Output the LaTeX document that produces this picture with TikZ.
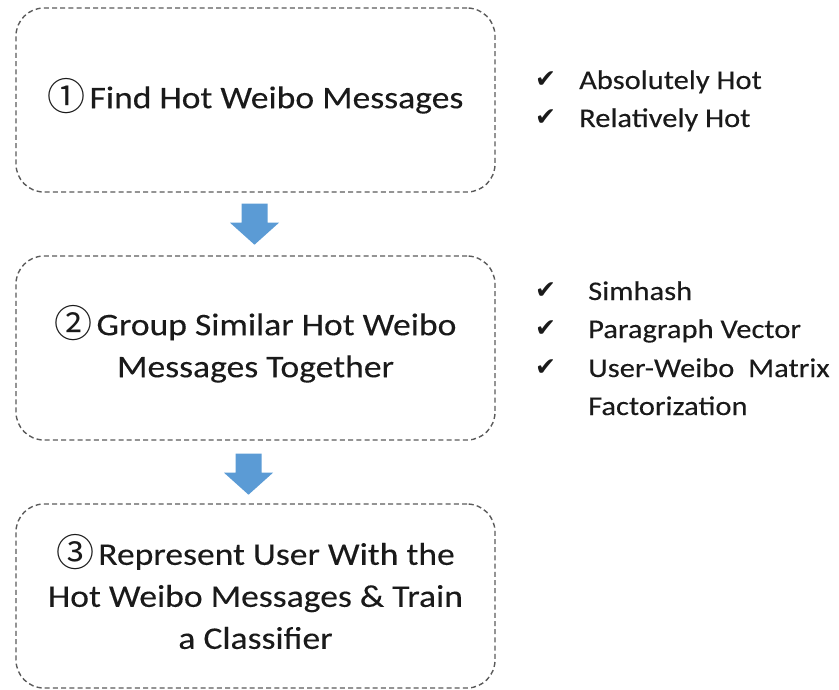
\documentclass[tikz,border=0pt]{standalone}
\usepackage{fontspec}
\setmainfont{Carlito}[FakeStretch=1.13,FakeBold=0.2]
\newfontfamily\dvfont{DejaVu Sans}
\newfontfamily\cjkfont{Noto Sans CJK SC}
\usetikzlibrary{calc}
\definecolor{arrowblue}{HTML}{5B9BD5}
\definecolor{dashgray}{HTML}{5A5A5A}
\definecolor{inktext}{HTML}{1A1A1A}
\tikzset{
  stepbox/.style={draw=dashgray, line width=1.4pt, dash pattern=on 5pt off 3.2pt,
    rounded corners=28pt, minimum width=479pt, minimum height=184pt,
    align=center, text=inktext, inner sep=0pt,
    font=\fontsize{31.5}{42}\selectfont},
  listitem/.style={anchor=base west, inner sep=0pt, text=inktext,
    font=\fontsize{27}{38}\selectfont},
  tick/.style={anchor=base west, inner sep=0pt, text=inktext,
    font=\dvfont\fontsize{25}{25}\selectfont},
  blockarrow/.style={fill=arrowblue}
}
\newcommand\circnum[1]{\smash{\raisebox{-2pt}{\cjkfont\fontsize{38}{38}\selectfont #1}}\hspace{4pt}}
\begin{document}
\begin{tikzpicture}[x=1pt,y=-1pt]
\useasboundingbox (0,0) rectangle (839,689);
\node[stepbox] (b1) at (255.5,100) {\circnum{①}Find Hot Weibo Messages};
\node[stepbox] (b2) at (255.5,348) {\circnum{②}Group Similar Hot Weibo\\Messages Together};
\node[stepbox] (b3) at (255.5,596) {\circnum{③}Represent User With the\\Hot Weibo Messages \& Train\\a Classifier};
% arrows
\coordinate (a1) at ($(b1.south)+(-1,11)$);
\coordinate (a2) at ($(b2.south)+(-7,13)$);
\foreach \c in {a1,a2}{
  \fill[blockarrow] ($(\c)+(-13,0)$) -- ($(\c)+(13,0)$) -- ($(\c)+(13,19)$) -- ($(\c)+(24.5,19)$)
    -- ($(\c)+(0,41)$) -- ($(\c)+(-24.5,19)$) -- ($(\c)+(-13,19)$) -- cycle;
}
% list 1
\node[tick] (t11) at (535,87) {✔};
\node[listitem] (l11) at (579,89) {Absolutely Hot};
\node[tick] (t12) at (535,125) {✔};
\node[listitem] (l12) at (579,127) {Relatively Hot};
% list 2
\node[tick] (t21) at (535,298) {✔};
\node[listitem] (l21) at (588,300) {Simhash};
\node[tick] (t22) at (535,336) {✔};
\node[listitem] (l22) at (588,338) {Paragraph Vector};
\node[tick] (t23) at (535,375) {✔};
\node[listitem] (l23) at (588,377) {User-Weibo\ \ Matrix};
\node[listitem] (l24) at (588,415) {Factorization};
\end{tikzpicture}
\end{document}
